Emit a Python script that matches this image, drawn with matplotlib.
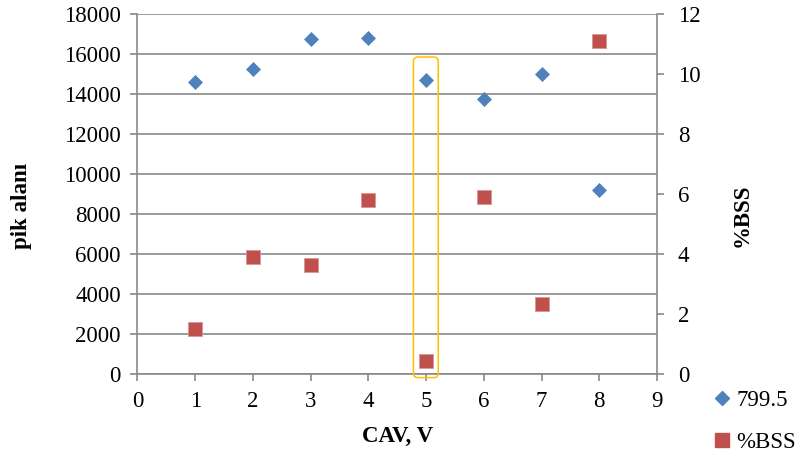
import matplotlib
matplotlib.use("Agg")
import matplotlib.pyplot as plt
from matplotlib.patches import FancyBboxPatch
from matplotlib.lines import Line2D

plt.rcParams['font.family'] = ['Liberation Serif', 'DejaVu Serif']

cav = [1, 2, 3, 4, 5, 6, 7, 8]
pik_alani = [14600, 15250, 16750, 16800, 14700, 13750, 15000, 9200]
bss = [1.5, 3.9, 3.65, 5.8, 0.45, 5.9, 2.35, 11.1]
series_names = ["799.5", "%BSS"]

blue = '#4F81BD'
red = '#C0504D'
gray = '#898989'
fs = 16.5

fig = plt.figure(figsize=(7.98, 4.61), dpi=100)
ax = fig.add_axes([0.1723, 0.1887, 0.8233 - 0.1723, 0.9696 - 0.1887])
ax2 = ax.twinx()

ax.set_xlim(0, 9)
ax.set_ylim(0, 18000)
ax.set_xticks(range(0, 10))
ax.set_yticks(range(0, 18001, 2000))
ax2.set_ylim(0, 12)
ax2.set_yticks(range(0, 13, 2))

ax.grid(axis='y', color=gray, linewidth=1.2)
ax.set_axisbelow(True)

for a in (ax, ax2):
    for s in a.spines.values():
        s.set_visible(False)
ax.spines['left'].set_visible(True)
ax.spines['bottom'].set_visible(True)
ax2.spines['right'].set_visible(True)
for s in (ax.spines['left'], ax.spines['bottom'], ax2.spines['right']):
    s.set_color(gray)
    s.set_linewidth(1.2)

ax.tick_params(axis='y', direction='out', length=5, width=1.2, color=gray, labelsize=fs, pad=7)
ax.tick_params(axis='x', direction='out', length=5, width=1.2, color=gray, labelsize=fs, pad=7)
ax2.tick_params(axis='y', direction='out', length=5, width=1.2, color=gray, labelsize=fs, pad=10)

ax.plot(cav, pik_alani, linestyle='none', marker='D', ms=7, color=blue,
        markeredgecolor=blue, markeredgewidth=0.5, zorder=3, clip_on=False)
ax2.plot(cav, bss, linestyle='none', marker='s', ms=10, color=red,
         markeredgecolor='#D99694', markeredgewidth=0.6, zorder=3, clip_on=False)

# highlight box around x=5
rect = FancyBboxPatch((4.78, -180), 0.43, 16030,
                      boxstyle="round,pad=0,rounding_size=0.08",
                      mutation_aspect=2890, linewidth=1.1,
                      edgecolor='#FFC000', facecolor='none',
                      transform=ax.transData, clip_on=False, zorder=4)
ax.add_patch(rect)

ax.set_xlabel("CAV, V", fontsize=fs, fontweight='bold', labelpad=10)
ax.set_ylabel("pik alanı", fontsize=fs, fontweight='bold')
ax2.set_ylabel("%BSS", fontsize=fs, fontweight='bold')
ax.yaxis.set_label_coords(-0.203, 0.467)
ax2.yaxis.set_label_coords(1.144, 0.44)

handles = [Line2D([], [], linestyle='none', marker='D', ms=7, color=blue),
           Line2D([], [], linestyle='none', marker='s', ms=10, color=red)]
fig.legend(handles, series_names, loc='upper left', bbox_to_anchor=(0.885, 0.175),
           frameon=False, fontsize=fs, handlelength=0.6, handletextpad=0.3,
           labelspacing=0.95, borderaxespad=0)

fig.savefig("out.png", dpi=100)
